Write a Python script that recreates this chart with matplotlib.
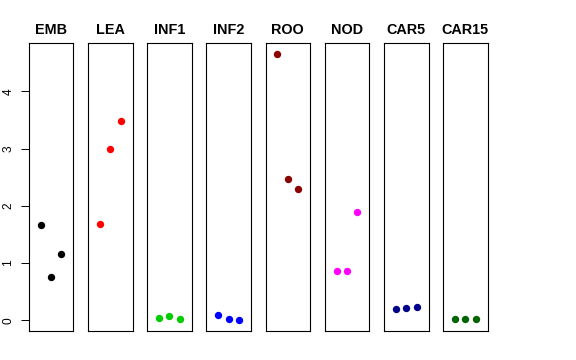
import matplotlib
matplotlib.use("Agg")
import matplotlib.pyplot as plt

# data
tissues = ["EMB", "LEA", "INF1", "INF2", "ROO", "NOD", "CAR5", "CAR15"]
colors = ["black", "red", "#00CD00", "blue", "#8B0000", "magenta", "#00008B", "#006400"]
x = [1, 2, 3]
values = [
    [1.66, 0.75, 1.16],
    [1.69, 2.99, 3.48],
    [0.04, 0.075, 0.025],
    [0.10, 0.025, 0.0],
    [4.66, 2.47, 2.29],
    [0.86, 0.86, 1.90],
    [0.19, 0.21, 0.225],
    [0.017, 0.017, 0.02],
]
yticks = [0, 1, 2, 3, 4]

plt.rcParams["font.family"] = ["Liberation Sans", "DejaVu Sans"]

fig = plt.figure(figsize=(5.76, 3.6), dpi=100)

ymax = max(max(v) for v in values)
ypad = ymax * 0.04
left0 = 28.7 / 576
step = 59.2 / 576
width = 44.6 / 576
bottom = (360 - 331) / 360
height = (331 - 43) / 360

for i, (name, col, vals) in enumerate(zip(tissues, colors, values)):
    ax = fig.add_axes([left0 + i * step, bottom, width, height])
    ax.plot(x, vals, "o", color=col, markersize=5.3, markeredgewidth=0)
    ax.set_xlim(0 - 0.16, 4 + 0.16)
    ax.set_ylim(0 - ypad, ymax + ypad)
    ax.set_xticks([])
    for s in ax.spines.values():
        s.set_linewidth(0.8)
        s.set_color("black")
    ax.set_title(name, fontsize=10.4, fontweight="bold", pad=6.5)
    if i == 0:
        ax.set_yticks(yticks)
        ax.tick_params(axis="y", length=5.8, width=0.7, pad=4.5, labelsize=8.6,
                       labelrotation=90)
        for lab in ax.get_yticklabels():
            lab.set_va("center")
    else:
        ax.set_yticks([])

fig.savefig("out.png", dpi=100)
